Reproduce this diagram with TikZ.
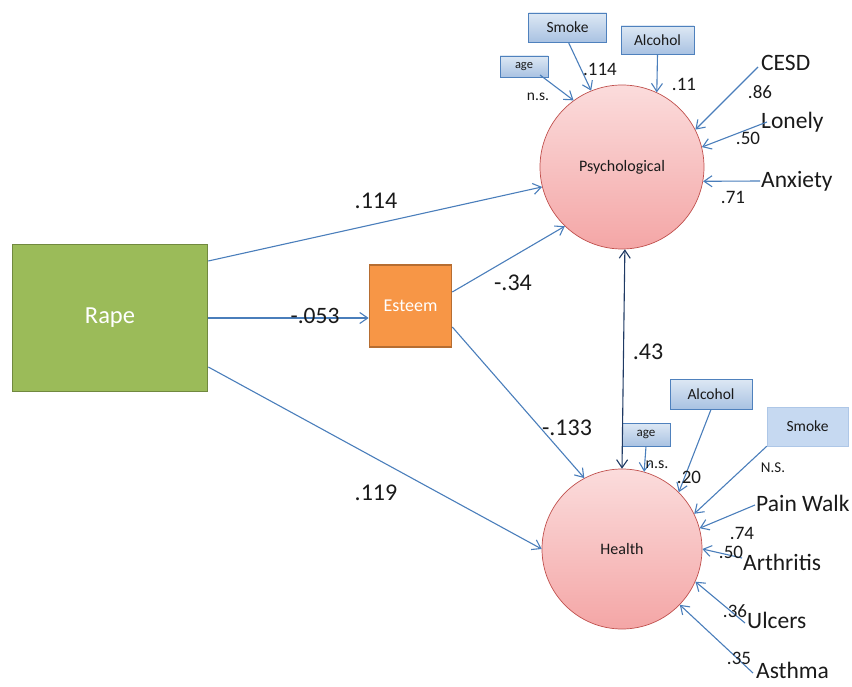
\documentclass[tikz,border=0pt]{standalone}
\usepackage{fontspec}
\setmainfont{Carlito}
\usetikzlibrary{arrows.meta,calc}
\definecolor{arrblue}{HTML}{4A7EBB}
\definecolor{navy}{HTML}{1F3A64}
\definecolor{rapegreen}{HTML}{9BBB59}
\definecolor{rapeborder}{HTML}{71893F}
\definecolor{esteemor}{HTML}{F79646}
\definecolor{esteemborder}{HTML}{B66D31}
\definecolor{pinktop}{HTML}{FBDCDC}
\definecolor{pinkbot}{HTML}{F4A6A6}
\definecolor{pinkborder}{HTML}{C0504D}
\definecolor{boxtop}{HTML}{DDE8F4}
\definecolor{boxbot}{HTML}{A9C2E2}
\definecolor{boxborder}{HTML}{4F81BD}
\definecolor{flatbox}{HTML}{C6D9F1}
\definecolor{txt}{HTML}{1A1A1A}
\tikzset{
  arr/.style={draw=arrblue, line width=1.1pt, -{Straight Barb[length=8pt,width=11pt]}},
  dbl/.style={draw=navy, line width=1.1pt, {Straight Barb[length=8pt,width=11pt]}-{Straight Barb[length=8pt,width=11pt]}},
  latent/.style={circle, draw=pinkborder, line width=0.7pt, top color=pinktop, bottom color=pinkbot, minimum size=164pt, inner sep=0pt, text=txt, font=\fontsize{16}{18}\selectfont},
  cbox/.style={rectangle, draw=boxborder, line width=0.9pt, top color=boxtop, bottom color=boxbot, inner sep=0pt, text=txt, font=\fontsize{15.5}{17}\selectfont},
  ind/.style={anchor=west, inner sep=0pt, text=txt, font=\fontsize{23.5}{26}\selectfont},
  coef/.style={inner sep=0pt, text=txt, font=\fontsize{19}{21}\selectfont},
  bigcoef/.style={inner sep=0pt, text=txt, font=\fontsize{24}{26}\selectfont},
}
\begin{document}
\begin{tikzpicture}[x=1pt,y=-1pt]
\useasboundingbox (0,0) rectangle (852,687);
% main nodes
\node[rectangle, draw=rapeborder, line width=1.6pt, fill=rapegreen, minimum width=195pt, minimum height=147pt, inner sep=0pt, text=white, font=\fontsize{24.5}{27}\selectfont] (rape) at (110,318) {Rape};
\node[rectangle, draw=esteemborder, line width=1.6pt, fill=esteemor, minimum width=82pt, minimum height=82pt, inner sep=0pt, text=white, font=\fontsize{18}{20}\selectfont] (esteem) at (410.5,306) {Esteem};
\node[latent] (psy) at (622,167) {Psychological};
\node[latent, minimum size=160pt] (hea) at (622,549) {Health};
% covariate boxes top
\node[cbox, minimum width=78pt, minimum height=29pt] (smoke1) at (567.5,27.5) {Smoke};
\node[cbox, minimum width=73pt, minimum height=28pt] (alc1) at (657.5,40) {Alcohol};
\node[cbox, minimum width=48pt, minimum height=21pt, font=\fontsize{12.5}{14}\selectfont] (age1) at (524,66.5) {age};
% covariate boxes bottom
\node[cbox, minimum width=82pt, minimum height=30pt] (alc2) at (711,394) {Alcohol};
\node[cbox, minimum width=48pt, minimum height=23pt, font=\fontsize{13}{15}\selectfont] (age2) at (646,434.5) {age};
\node[rectangle, draw=flatbox!80!boxborder, line width=0.5pt, fill=flatbox, minimum width=81pt, minimum height=39pt, inner sep=0pt, text=txt, font=\fontsize{15.5}{17}\selectfont] (smoke2) at (807.5,426.5) {Smoke};
% indicators
\node[ind] (cesd) at (761,63) {CESD};
\node[ind] (lonely) at (761,122) {Lonely};
\node[ind] (anx) at (761,181) {Anxiety};
\node[ind] (pain) at (756,503) {Pain Walk};
\node[ind] (arth) at (743,562) {Arthritis};
\node[ind] (ulc) at (747,620) {Ulcers};
\node[ind] (ast) at (756,670) {Asthma};
% coordinates for free ends
\coordinate (cesdS) at (758,67);
\coordinate (lonS) at (767,122);
\coordinate (anxS) at (760,181);
\coordinate (painS) at (755,505);
\coordinate (arthS) at (742,558);
\coordinate (ulcS) at (745,623);
\coordinate (astS) at (753,673);
\coordinate (a1s) at (540,75);
% structural arrows
\draw[arr] ([yshift=57pt]rape.east) -- (psy.194);
\draw[arr] (rape.east) -- (rape.east -| esteem.west);
\draw[arr] ([yshift=-49pt]rape.east) -- (hea.180);
\draw[arr] ([yshift=14pt]esteem.east) -- (psy.226);
\draw[arr] ([yshift=-21pt]esteem.east) -- (hea.118);
\draw[dbl] (psy.-88) -- (hea.90);
% covariate arrows top
\draw[arr] (a1s) -- (psy.126);
\draw[arr] ($(smoke1.south)+(1,0)$) -- (psy.112);
\draw[arr] (alc1.south) -- (psy.65);
% indicator arrows top
\draw[arr] (cesdS) -- (psy.27);
\draw[arr] (lonS) -- (psy.14);
\draw[arr] (anxS) -- (psy.-10);
% covariate arrows bottom
\draw[arr] (age2.south) -- (hea.74);
\draw[arr] (alc2.south) -- (hea.45);
\draw[arr] (smoke2.south west) -- (hea.26);
% indicator arrows bottom
\draw[arr] (painS) -- (hea.15);
\draw[arr] (arthS) -- (hea.0);
\draw[arr] (ulcS) -- (hea.-24);
\draw[arr] (astS) -- (hea.-44);
% labels
\node[bigcoef] (l1) at (376,201) {.114};
\node[bigcoef] (l2) at (513,283) {-.34};
\node[bigcoef, font=\fontsize{23.5}{26}\selectfont] (l3) at (315,316) {-.053};
\node[bigcoef] (l4) at (567,428) {-.133};
\node[bigcoef] (l5) at (376,493) {.119};
\node[bigcoef] (l6) at (648,352) {.43};
\node[coef, font=\fontsize{15.5}{17}\selectfont] (ns1) at (538,97) {n.s.};
\node[coef] (c1) at (600,69) {.114};
\node[coef] (c2) at (684,84) {.11};
\node[coef] (c3) at (760,92) {.86};
\node[coef] (c4) at (748,138) {.50};
\node[coef] (c5) at (733,197) {.71};
\node[coef, font=\fontsize{16}{18}\selectfont] (ns2) at (657,465) {n.s.};
\node[coef] (c6) at (689,477) {.20};
\node[coef, font=\fontsize{15}{17}\selectfont] (ns3) at (773,468) {N.S.};
\node[coef] (c7) at (742,533) {.74};
\node[coef] (c8) at (731,552) {.50};
\node[coef] (c9) at (735,611) {.36};
\node[coef] (c10) at (739,658) {.35};
\end{tikzpicture}
\end{document}
